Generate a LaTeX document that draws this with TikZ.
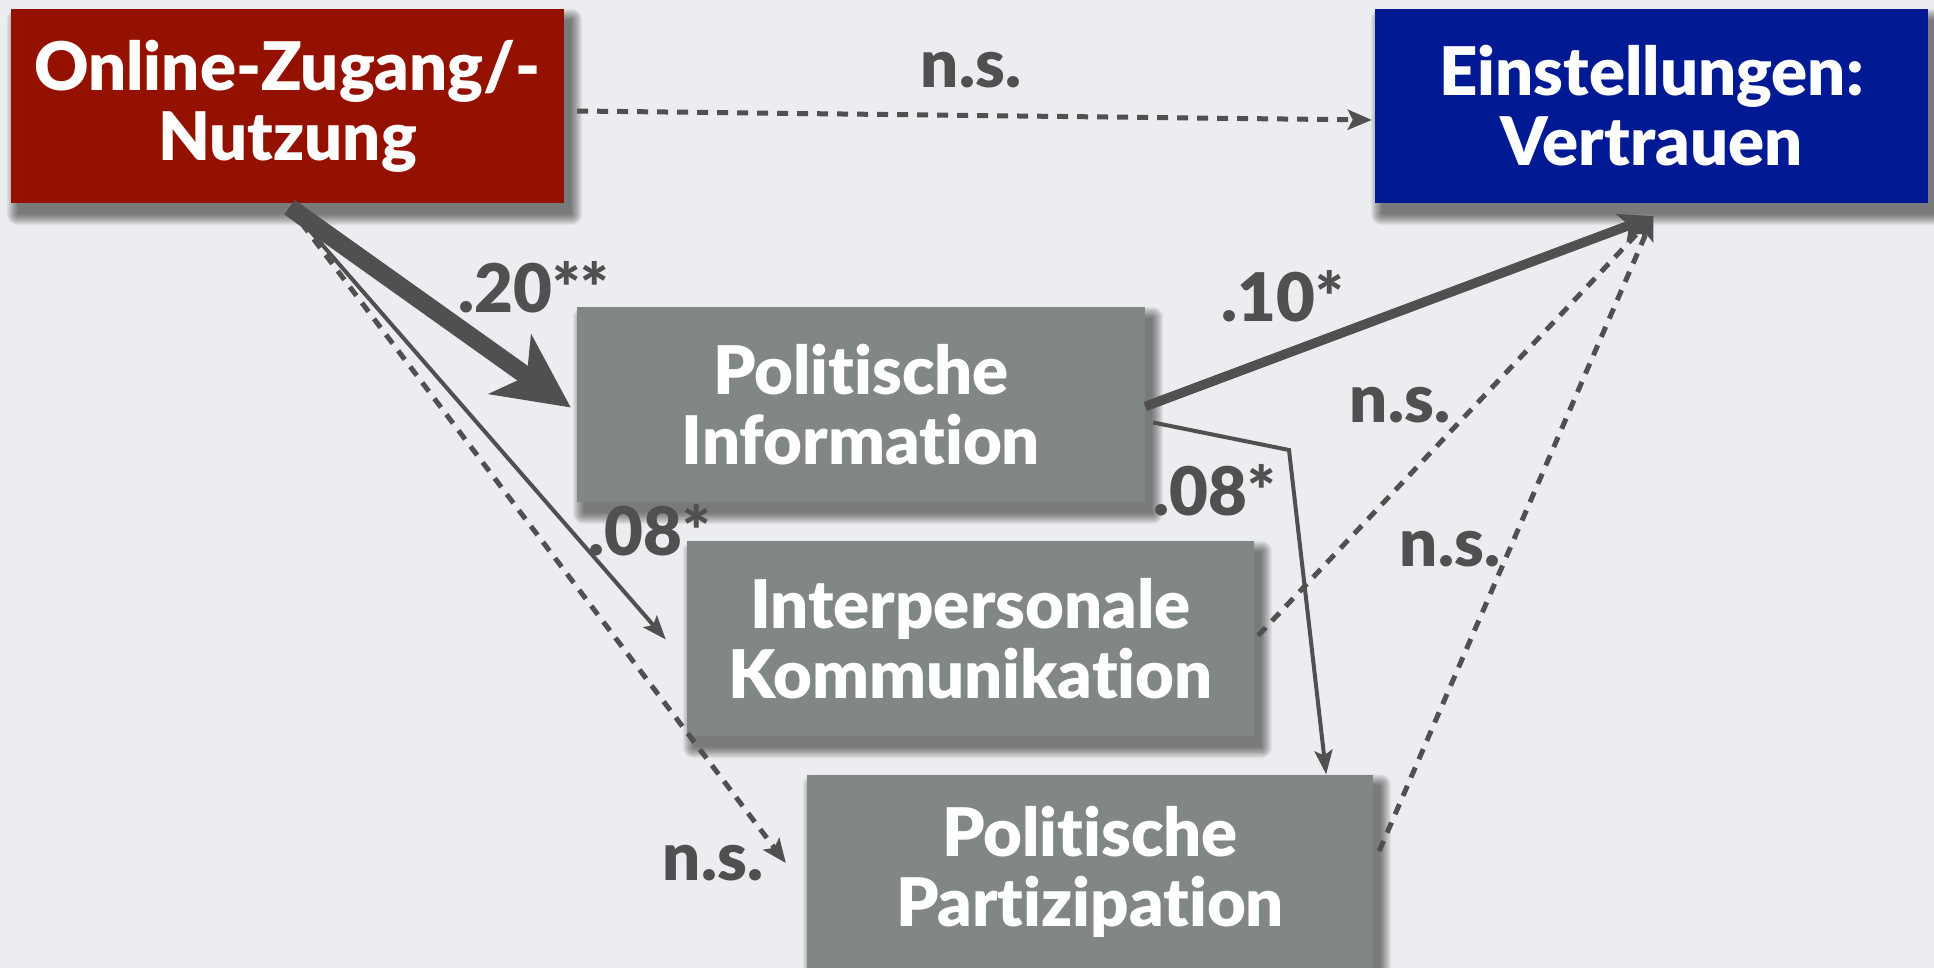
\documentclass[tikz,border=0pt]{standalone}
\usepackage{fontspec}
\setmainfont{Lato}[BoldFont={Lato Black}, Ligatures=NoCommon]
\usetikzlibrary{arrows.meta,calc}
\definecolor{bg}{HTML}{ECEDF0}
\definecolor{onred}{HTML}{941100}
\definecolor{vtblue}{HTML}{011993}
\definecolor{boxgray}{HTML}{808784}
\definecolor{ink}{HTML}{505050}
\pgfdeclarelayer{paper}
\pgfdeclarelayer{shade}
\pgfsetlayers{paper,shade,main}
\begin{document}
\begin{tikzpicture}[x=1pt,y=-1pt,
  box/.style={fill=#1, text=white, inner sep=0pt, align=center,
    font=\fontsize{67}{70}\selectfont\bfseries},
  lbl/.style={text=ink, inner sep=0pt, font=\fontsize{67}{70}\selectfont\bfseries},
  shadowstep/.style={fill=black, opacity=0.05},
  heavyarr/.style={draw=ink, line width=18pt, -{Stealth[length=74pt, width=72pt, inset=20pt]}},
  midarr/.style={draw=ink, line width=9.5pt, -{Stealth[length=34pt, width=30pt, inset=8pt]}},
  thinarr/.style={draw=ink, line width=4pt, -{Stealth[length=24pt, width=18pt, inset=5pt]}},
  nsarr/.style={draw=ink, line width=5pt, dash pattern=on 11pt off 9pt, -{Stealth[length=24pt, width=20pt, inset=5pt]}}
]
\begin{pgfonlayer}{paper}
\fill[bg] (0,0) rectangle (1934,968);
\end{pgfonlayer}
\useasboundingbox (0,0) rectangle (1934,968);
\clip (0,0) rectangle (1934,968);

% variables
\node[box=onred, minimum width=553pt, minimum height=194pt] (on) at (287.5,106) {Online-Zugang/-\\Nutzung};
\node[box=vtblue, minimum width=553pt, minimum height=194pt] (ei) at (1651.5,106) {Einstellungen:\\Vertrauen};
\node[box=boxgray, minimum width=568pt, minimum height=195pt] (pi) at (861,404.5) {Politische\\Information};
\node[box=boxgray, minimum width=567pt, minimum height=195pt] (ik) at (970.5,638.5) {Interpersonale\\Kommunikation};
\node[box=boxgray, minimum width=566pt, minimum height=195pt] (pp) at (1090,872) {Politische\\Partizipation};

% soft drop shadows below the boxes
\begin{pgfonlayer}{shade}
\foreach \n in {on,ei,pi,ik,pp}
  \foreach \i in {0,...,11}
    \fill[shadowstep, rounded corners=\i pt]
      ($(\n.north west)+(7-\i,11-\i)$) rectangle ($(\n.south east)+(7+\i,11+\i)$);
\end{pgfonlayer}

% connector ends
\coordinate (src) at ($(on.south)+(2,4)$);
\coordinate (tgt) at ($(ei.south)+(2,13)$);
\coordinate (bend) at (1289,450);

% paths
\draw[nsarr] ($(on.east)+(13,5)$) -- ($(ei.west)+(-3,14)$);
\draw[nsarr] (src) -- ($(pp.west)+(-21,-9)$);
\draw[thinarr] (src) -- ($(ik.west)+(-21,1)$);
\draw[heavyarr] (src) -- ($(pi.west)+(-6,3)$);
\draw[midarr] ($(pi.east)+(0,2)$) -- (tgt);
\draw[thinarr] ($(pi.east)+(8,18)$) -- (bend) -- ($(pp.north east)+(-47,0)$);
\draw[nsarr] ($(ik.east)+(4,-3)$) -- (tgt);
\draw[nsarr] ($(pp.east)+(6,-21)$) -- (tgt);

% coefficients
\node[lbl] (l1) at (971,70) {n.s.};
\node[lbl] (l2) at (534,287) {.20**};
\node[lbl] (l3) at (650,530) {.08*};
\node[lbl] (l4) at (713,863) {n.s.};
\node[lbl] (l5) at (1283,296) {.10*};
\node[lbl] (l6) at (1215,490) {.08*};
\node[lbl] (l7) at (1400,405) {n.s.};
\node[lbl] (l8) at (1450,549) {n.s.};
\end{tikzpicture}
\end{document}
